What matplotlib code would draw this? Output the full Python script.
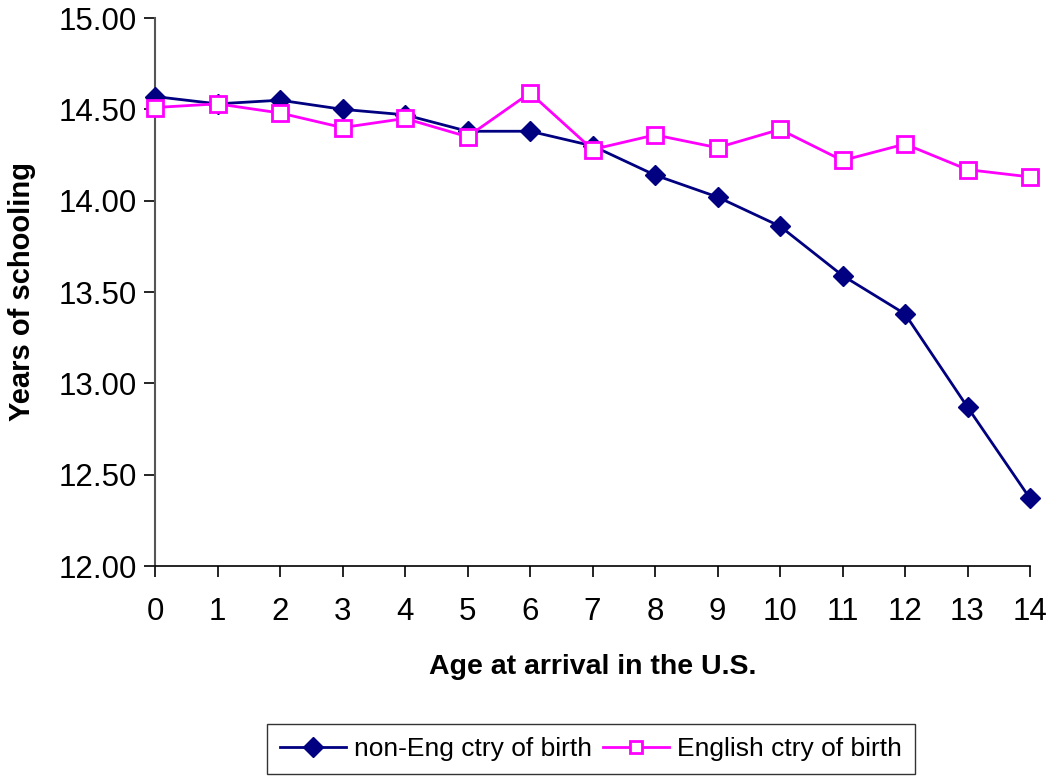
import matplotlib
matplotlib.use("Agg")
import matplotlib.pyplot as plt
from matplotlib.lines import Line2D

plt.rcParams['font.family'] = ['Liberation Sans', 'DejaVu Sans']

ages = list(range(15))
non_eng = [14.57, 14.53, 14.55, 14.50, 14.47, 14.38, 14.38, 14.30,
           14.14, 14.02, 13.86, 13.59, 13.38, 12.87, 12.37]
english = [14.51, 14.53, 14.48, 14.40, 14.45, 14.35, 14.59, 14.28,
           14.36, 14.29, 14.39, 14.22, 14.31, 14.17, 14.13]
y_ticks = [12.0, 12.5, 13.0, 13.5, 14.0, 14.5, 15.0]

navy = '#000080'
magenta = '#FF00FF'

fig = plt.figure(figsize=(10.48, 7.76), dpi=100)
ax = fig.add_axes([155 / 1048, 1 - 566 / 776, (1030 - 155) / 1048, (566 - 18) / 776])

ax.plot(ages, non_eng, color=navy, lw=2, marker='D', ms=10,
        markerfacecolor=navy, markeredgecolor=navy, clip_on=False, zorder=3)
ax.plot(ages, english, color=magenta, lw=2, marker='s', ms=11,
        markerfacecolor='white', markeredgecolor=magenta, markeredgewidth=2,
        clip_on=False, zorder=3)

ax.set_xlim(0, 14)
ax.set_ylim(12, 15)
ax.set_xticks(ages)
ax.set_yticks(y_ticks)
ax.set_yticklabels([f'{v:.2f}' for v in y_ticks])
ax.tick_params(axis='both', direction='out', length=8, width=1.2,
               labelsize=22.5, colors='black')
ax.tick_params(axis='x', pad=14)
ax.tick_params(axis='y', pad=5)

for side in ('top', 'right'):
    ax.spines[side].set_visible(False)
ax.spines['left'].set_color('#555555')
ax.spines['left'].set_linewidth(1.5)
ax.spines['bottom'].set_color('black')
ax.spines['bottom'].set_linewidth(1.2)

ax.set_xlabel('Age at arrival in the U.S.', fontsize=20.5, fontweight='bold', labelpad=20)
ax.set_ylabel('Years of schooling', fontsize=21, fontweight='bold', labelpad=16)

handles = [
    Line2D([], [], color=navy, lw=2, marker='D', ms=10, markerfacecolor=navy),
    Line2D([], [], color=magenta, lw=2, marker='s', ms=9,
           markerfacecolor='white', markeredgecolor=magenta, markeredgewidth=2),
]
leg = fig.legend(handles, ['non-Eng ctry of birth', 'English ctry of birth'],
                 loc='center', bbox_to_anchor=(591 / 1048, 1 - 749 / 776),
                 ncol=2, fontsize=19, frameon=True, fancybox=False,
                 edgecolor='black', handlelength=2.5, columnspacing=0.4,
                 handletextpad=0.3, borderpad=0.5, borderaxespad=0)
leg.get_frame().set_linewidth(1.0)

fig.savefig('out.png', dpi=100, facecolor='white')
